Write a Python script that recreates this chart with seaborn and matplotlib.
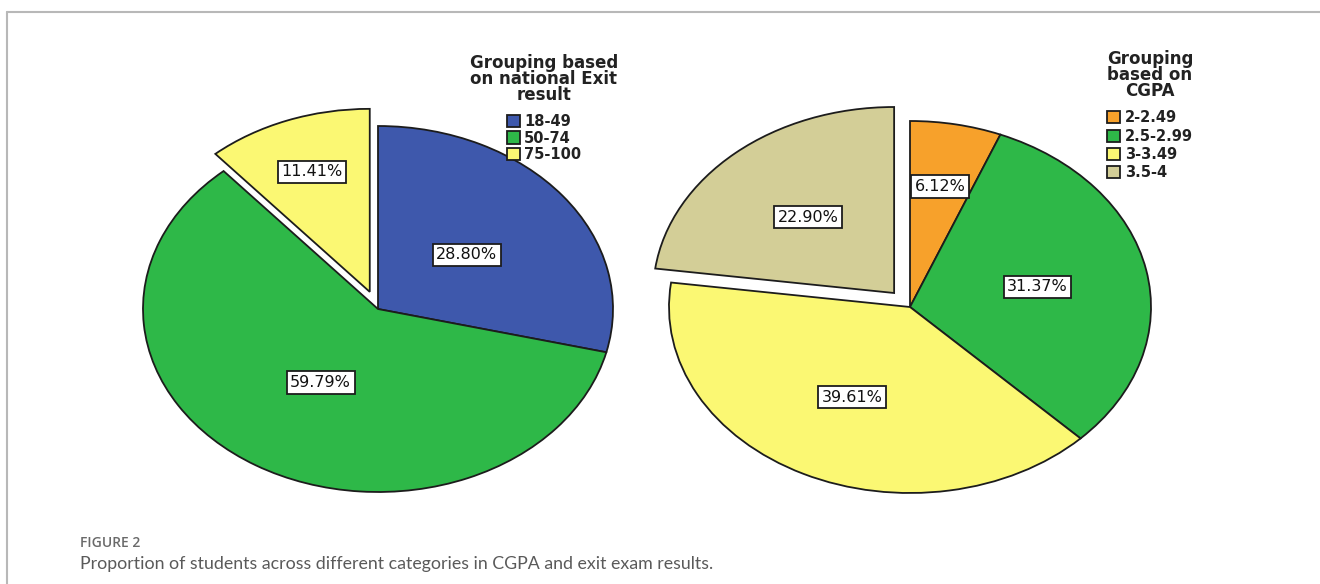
import numpy as np
import matplotlib.pyplot as plt
import seaborn as sns
from matplotlib.lines import Line2D

# values
exit_groups = ["18-49", "50-74", "75-100"]
exit_pct = [28.80, 59.79, 11.41]
cgpa_groups = ["2-2.49", "2.5-2.99", "3-3.49", "3.5-4"]
cgpa_pct = [6.12, 31.37, 39.61, 22.90]

exit_colors = ["#3E58AC", "#2EB848", "#FBF873"]
cgpa_colors = ["#F7A12B", "#2EB848", "#FBF873", "#D3CE97"]

sns.set_theme(style="white")
plt.rcParams['font.family'] = ['DejaVu Sans']

W, H = 1320, 584
fig = plt.figure(figsize=(W / 100, H / 100), dpi=100)
EDGE = "#1c1c1c"


def pie_axes(cx, cy, rx, ry, m=1.3):
    ax = fig.add_axes([(cx - m * rx) / W, (H - cy - m * ry) / H, 2 * m * rx / W, 2 * m * ry / H])
    ax.set_facecolor("none")
    return ax


def draw_pie(ax, values, colors, explode, label_r, m=1.3):
    wedges, _ = ax.pie(values, colors=colors, explode=explode, startangle=90,
                       counterclock=False,
                       wedgeprops=dict(edgecolor=EDGE, linewidth=1.3))
    ax.set_aspect("auto")
    ax.set_xlim(-m, m)
    ax.set_ylim(-m, m)
    ax.axis("off")
    # percentage labels in white boxes, like SPSS
    for w, v, r in zip(wedges, values, label_r):
        ang = np.deg2rad((w.theta1 + w.theta2) / 2)
        x = w.center[0] + r * np.cos(ang)
        y = w.center[1] + r * np.sin(ang)
        ax.text(x, y, f"{v:.2f}%", ha="center", va="center", fontsize=11.5, color="#111",
                bbox=dict(boxstyle="square,pad=0.22", fc="white", ec=EDGE, lw=1.3))
    return wedges


def add_legend(ax, wedges, labels, title, x, y, spacing):
    leg = ax.legend(wedges, labels, title=title, loc="upper center",
                    bbox_to_anchor=(x / W, 1 - y / H), bbox_transform=fig.transFigure,
                    frameon=False, borderpad=0,
                    handlelength=0.9, handleheight=0.9, handletextpad=0.3,
                    labelspacing=spacing,
                    prop=dict(weight="bold", size=10.5),
                    title_fontproperties=dict(weight="bold", size=12))
    leg.get_title().set_multialignment("center")
    leg.get_title().set_linespacing(0.85)
    leg.get_title().set_color("#222")
    for t in leg.get_texts():
        t.set_color("#222")
    # wider gap between the title and the entries
    leg._legend_box.sep = 7.4
    return leg


ax1 = pie_axes(378, 309, 235, 183)
w1 = draw_pie(ax1, exit_pct, exit_colors, [0, 0, 0.1], [0.48, 0.47, 0.70])
add_legend(ax1, w1, exit_groups, "Grouping based\non national Exit\nresult", 544, 47, 0.08)

ax2 = pie_axes(910, 307, 241, 186)
w2 = draw_pie(ax2, cgpa_pct, cgpa_colors, [0, 0, 0, 0.1], [0.66, 0.54, 0.54, 0.54])
add_legend(ax2, w2, cgpa_groups, "Grouping\nbased on\nCGPA", 1150, 43, 0.23)

# frame lines of the figure panel
fig.add_artist(Line2D([7 / W, 1], [1 - 12 / H, 1 - 12 / H], transform=fig.transFigure,
                      color="#b8b8b8", lw=1.5))
fig.add_artist(Line2D([7 / W, 7 / W], [0, 1 - 12 / H], transform=fig.transFigure,
                      color="#b8b8b8", lw=1.5))

fig.text(80 / W, 1 - 543 / H, "FIGURE 2", fontsize=10, color="#6a6a6a",
         family="Open Sans", weight="semibold", va="center")
fig.text(80 / W, 1 - 564 / H,
         "Proportion of students across different categories in CGPA and exit exam results.",
         fontsize=12.8, color="#5a5a5a", family="Lato", va="center")

fig.savefig("out.png", dpi=100)
